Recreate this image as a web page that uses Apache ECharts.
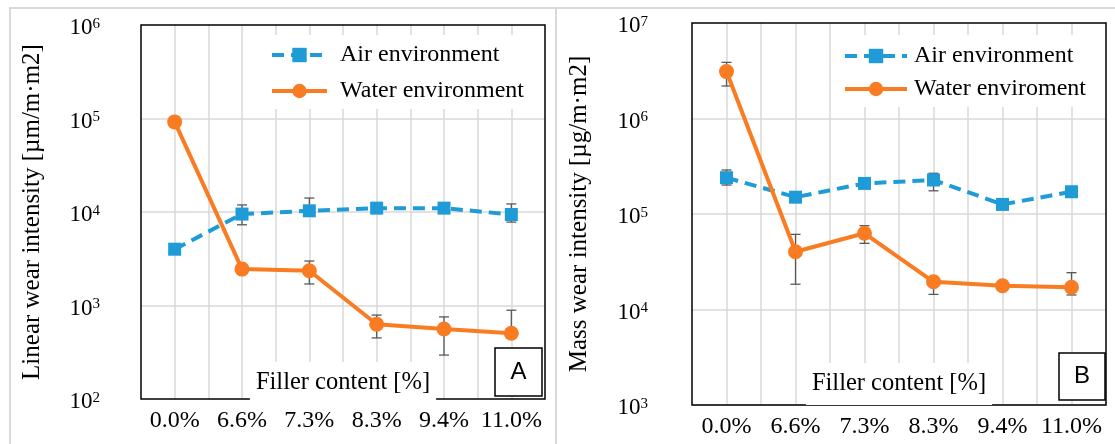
<!DOCTYPE html>
<html>
<head>
<meta charset="utf-8">
<script src="https://cdn.jsdelivr.net/npm/echarts@6/dist/echarts.min.js"></script>
<style>
html,body{margin:0;padding:0;background:#fff;}
#chart{width:1115px;height:444px;}
</style>
</head>
<body>
<div id="chart"></div>
<script>
// ---- data ----
const categories = ['0.0%', '6.6%', '7.3%', '8.3%', '9.4%', '11.0%'];

// Panel A: linear wear intensity [µm/m·m2]
const airLinear = [4000, 9500, 10300, 11000, 11000, 9400];
const airLinearErrLow = [null, 7300, 9500, null, 9800, 7800];
const airLinearErrHigh = [null, 11900, 14100, null, 12500, 12200];
const waterLinear = [92000, 2450, 2350, 630, 560, 505];
const waterLinearErrLow = [null, null, 1700, 450, 295, 450];
const waterLinearErrHigh = [null, null, 2990, 790, 755, 890];

// Panel B: mass wear intensity [µg/m·m2]
const airMass = [240000, 150000, 209000, 227000, 126000, 171000];
const airMassErrLow = [201000, null, null, 175000, null, null];
const airMassErrHigh = [289000, null, null, 267000, null, null];
const waterMass = [3100000, 40300, 62800, 19500, 17700, 17100];
const waterMassErrLow = [2190000, 18400, 49300, 14400, null, 14200];
const waterMassErrHigh = [3870000, 61200, 75400, 21000, null, 24300];

const yTicksA = [100, 1e6];
const yTicksB = [1000, 1e7];

const seriesNamesA = ['Air environment', 'Water environment'];
const seriesNamesB = ['Air environment', 'Water enviroment'];
const xName = 'Filler content [%]';
const yNameA = 'Linear wear intensity [µm/m·m2]';
const yNameB = 'Mass wear intensity [µg/m·m2]';
const panelLabels = ['A', 'B'];

// ---- styling ----
const SERIF = 'Liberation Serif';
const SANS = 'Liberation Sans';
const BLUE = '#1f9bd7';
const ORANGE = '#f97c22';
const GRID = '#d9d9d9';
const ERR = '#595959';

function errData(lo, hi) {
  const out = [];
  lo.forEach((v, i) => { if (v != null && hi[i] != null) out.push([i, v, hi[i]]); });
  return out;
}
function errRender(params, api) {
  const x = api.value(0);
  const p1 = api.coord([x, api.value(1)]);
  const p2 = api.coord([x, api.value(2)]);
  const w = 5;
  const st = { stroke: ERR, lineWidth: 1.3 };
  return {
    type: 'group',
    children: [
      { type: 'line', shape: { x1: p1[0], y1: p1[1], x2: p2[0], y2: p2[1] }, style: st },
      { type: 'line', shape: { x1: p1[0] - w, y1: p1[1], x2: p1[0] + w, y2: p1[1] }, style: st },
      { type: 'line', shape: { x1: p2[0] - w, y1: p2[1], x2: p2[0] + w, y2: p2[1] }, style: st }
    ]
  };
}
function powLabel(v) {
  const e = Math.round(Math.log10(v));
  return '{b|10}{s|' + e + '}';
}
const labelRich = {
  b: { fontFamily: SERIF, fontSize: 23, color: '#000' },
  s: { fontFamily: SERIF, fontSize: 15, color: '#000', verticalAlign: 'top', padding: [0, 0, 8, 0] }
};

function catAxis(gridIndex, nameGap) {
  return {
    type: 'category', gridIndex: gridIndex, data: categories, position: 'bottom',
    boundaryGap: true,
    axisLine: { show: false }, axisTick: { show: false },
    axisLabel: { fontFamily: SERIF, fontSize: 24, color: '#000', margin: 10, interval: 0 },
    splitLine: { show: false },
    name: xName, nameLocation: 'middle', nameGap: nameGap, nameMoveOverlap: false,
    nameTextStyle: { fontFamily: SERIF, fontSize: 24.5, color: '#000', backgroundColor: '#fff', padding: [8, 6, 9, 6] }
  };
}
function helperAxis(gridIndex) {
  return {
    type: 'category', gridIndex: gridIndex, data: new Array(12).fill(''), position: 'top',
    boundaryGap: true, z: -1,
    axisLine: { show: false }, axisTick: { show: false, interval: 0 }, axisLabel: { show: false, interval: 0 },
    splitLine: { show: true, interval: 0, showMinLine: false, showMaxLine: false, lineStyle: { color: GRID, width: 1.5 } }
  };
}
function logAxis(gridIndex, ticks, name, nameGap, margin) {
  return {
    type: 'log', logBase: 10, gridIndex: gridIndex, min: ticks[0], max: ticks[1], z: -1,
    axisLine: { show: false }, axisTick: { show: false },
    axisLabel: { margin: margin, formatter: powLabel, rich: labelRich, padding: [6, 0, 0, 0] },
    splitLine: { show: true, showMinLine: false, showMaxLine: false, lineStyle: { color: GRID, width: 1.5 } },
    name: name, nameLocation: 'middle', nameGap: nameGap, nameRotate: 90, nameMoveOverlap: false,
    nameTextStyle: { fontFamily: SERIF, fontSize: 25, color: '#000' }
  };
}
function airSeries(name, xi, yi, data) {
  return {
    type: 'line', name: name, xAxisIndex: xi, yAxisIndex: yi, data: data, z: 3,
    symbol: 'rect', symbolSize: 13, itemStyle: { color: BLUE },
    lineStyle: { color: BLUE, width: 4, type: [12, 7] }
  };
}
function waterSeries(name, xi, yi, data) {
  return {
    type: 'line', name: name, xAxisIndex: xi, yAxisIndex: yi, data: data, z: 4,
    symbol: 'circle', symbolSize: 15, itemStyle: { color: ORANGE },
    lineStyle: { color: ORANGE, width: 4 }
  };
}
function errSeries(xi, yi, lo, hi) {
  return {
    type: 'custom', xAxisIndex: xi, yAxisIndex: yi, z: 2,
    renderItem: errRender, data: errData(lo, hi), encode: { x: 0, y: [1, 2] }
  };
}
function panelBox(x, y, w, h, label) {
  return {
    type: 'group', z: 100,
    children: [
      { type: 'rect', shape: { x: x, y: y, width: w, height: h }, style: { fill: '#fff', stroke: '#000', lineWidth: 1.5 } },
      { type: 'text', x: x + w / 2, y: y + h / 2, style: { text: label, fontFamily: SANS, fontSize: 24, fill: '#000', align: 'center', verticalAlign: 'middle' } }
    ]
  };
}
function legendOpt(names, left, top, iconW, gap, textPad, pad) {
  return {
    data: names, orient: 'vertical', left: left, top: top,
    itemWidth: iconW, itemHeight: 18, itemGap: gap, padding: pad,
    backgroundColor: '#fff', selectedMode: false,
    lineStyle: { width: 4 },
    textStyle: { fontFamily: SERIF, fontSize: 24, color: '#000', padding: [0, 0, 0, textPad] }
  };
}

const chart = echarts.init(document.getElementById('chart'), null, { renderer: 'canvas' });
chart.setOption({
  animation: false,
  backgroundColor: '#fff',
  grid: [
    { left: 141, top: 25, width: 404, height: 374, show: true, borderColor: '#000', borderWidth: 1.5, outerBoundsMode: 'none', containLabel: false },
    { left: 692, top: 23, width: 414, height: 382, show: true, borderColor: '#000', borderWidth: 1.5, outerBoundsMode: 'none', containLabel: false }
  ],
  xAxis: [catAxis(0, -37), helperAxis(0), catAxis(1, -42), helperAxis(1)],
  yAxis: [logAxis(0, yTicksA, yNameA, 96, 41), logAxis(1, yTicksB, yNameB, 100, 44)],
  legend: [
    legendOpt(seriesNamesA, 262, 35, 55, 12, 8, [8, 17, 6, 8]),
    legendOpt(seriesNamesB, 835, 35, 62, 9, 2, [9, 18, 6, 8])
  ],
  graphic: [
    { type: 'rect', z: 100, shape: { x: 10, y: 8, width: 546, height: 460 }, style: { fill: 'none', stroke: GRID, lineWidth: 2 } },
    { type: 'rect', z: 100, shape: { x: 556, y: 8, width: 600, height: 460 }, style: { fill: 'none', stroke: GRID, lineWidth: 2 } },
    panelBox(495, 348, 47, 48, panelLabels[0]),
    panelBox(1059, 353, 46, 47, panelLabels[1])
  ],
  series: [
    errSeries(0, 0, airLinearErrLow, airLinearErrHigh),
    errSeries(0, 0, waterLinearErrLow, waterLinearErrHigh),
    airSeries(seriesNamesA[0], 0, 0, airLinear),
    waterSeries(seriesNamesA[1], 0, 0, waterLinear),
    errSeries(2, 1, airMassErrLow, airMassErrHigh),
    errSeries(2, 1, waterMassErrLow, waterMassErrHigh),
    airSeries(seriesNamesB[0], 2, 1, airMass),
    waterSeries(seriesNamesB[1], 2, 1, waterMass)
  ]
});
</script>
</body>
</html>
